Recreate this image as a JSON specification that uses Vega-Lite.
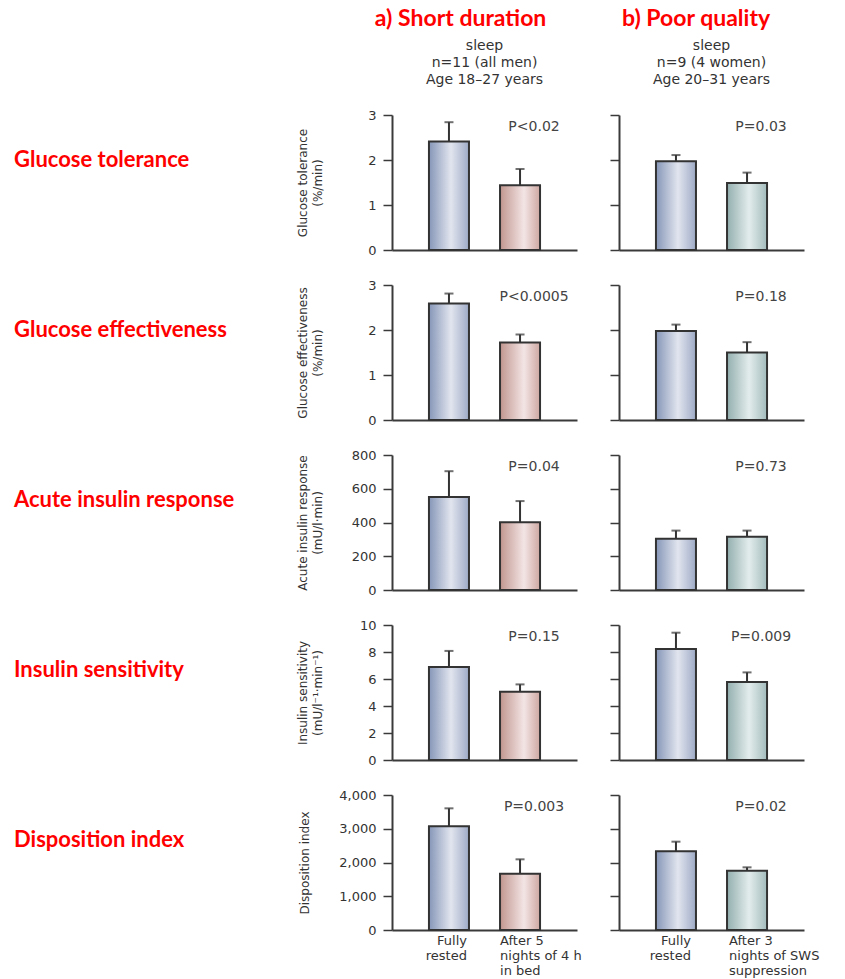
{
  "$schema": "https://vega.github.io/schema/vega-lite/v6.json",
  "padding": {"left": 14, "top": 8, "right": 5, "bottom": 5},
  "background": "white",
  "datasets": {
    "metrics": [
      {"metric": "Glucose tolerance"},
      {"metric": "Glucose effectiveness"},
      {"metric": "Acute insulin response"},
      {"metric": "Insulin sensitivity"},
      {"metric": "Disposition index"}
    ],
    "bars": [
      {"metric": "Glucose tolerance", "study": "short", "condition": "Fully\nrested", "value": 2.41, "upper": 2.84},
      {"metric": "Glucose tolerance", "study": "short", "condition": "After 5\nnights of 4 h\nin bed", "value": 1.44, "upper": 1.80, "p": "P<0.02"},
      {"metric": "Glucose tolerance", "study": "poor", "condition": "Fully\nrested", "value": 1.97, "upper": 2.11},
      {"metric": "Glucose tolerance", "study": "poor", "condition": "After 3\nnights of SWS\nsuppression", "value": 1.49, "upper": 1.72, "p": "P=0.03"},
      {"metric": "Glucose effectiveness", "study": "short", "condition": "Fully\nrested", "value": 2.59, "upper": 2.81},
      {"metric": "Glucose effectiveness", "study": "short", "condition": "After 5\nnights of 4 h\nin bed", "value": 1.72, "upper": 1.90, "p": "P<0.0005"},
      {"metric": "Glucose effectiveness", "study": "poor", "condition": "Fully\nrested", "value": 1.98, "upper": 2.12},
      {"metric": "Glucose effectiveness", "study": "poor", "condition": "After 3\nnights of SWS\nsuppression", "value": 1.50, "upper": 1.73, "p": "P=0.18"},
      {"metric": "Acute insulin response", "study": "short", "condition": "Fully\nrested", "value": 551, "upper": 704},
      {"metric": "Acute insulin response", "study": "short", "condition": "After 5\nnights of 4 h\nin bed", "value": 402, "upper": 527, "p": "P=0.04"},
      {"metric": "Acute insulin response", "study": "poor", "condition": "Fully\nrested", "value": 304, "upper": 352},
      {"metric": "Acute insulin response", "study": "poor", "condition": "After 3\nnights of SWS\nsuppression", "value": 316, "upper": 352, "p": "P=0.73"},
      {"metric": "Insulin sensitivity", "study": "short", "condition": "Fully\nrested", "value": 6.89, "upper": 8.08},
      {"metric": "Insulin sensitivity", "study": "short", "condition": "After 5\nnights of 4 h\nin bed", "value": 5.05, "upper": 5.60, "p": "P=0.15"},
      {"metric": "Insulin sensitivity", "study": "poor", "condition": "Fully\nrested", "value": 8.23, "upper": 9.43},
      {"metric": "Insulin sensitivity", "study": "poor", "condition": "After 3\nnights of SWS\nsuppression", "value": 5.77, "upper": 6.49, "p": "P=0.009"},
      {"metric": "Disposition index", "study": "short", "condition": "Fully\nrested", "value": 3072, "upper": 3605},
      {"metric": "Disposition index", "study": "short", "condition": "After 5\nnights of 4 h\nin bed", "value": 1669, "upper": 2094, "p": "P=0.003"},
      {"metric": "Disposition index", "study": "poor", "condition": "Fully\nrested", "value": 2331, "upper": 2617},
      {"metric": "Disposition index", "study": "poor", "condition": "After 3\nnights of SWS\nsuppression", "value": 1758, "upper": 1857, "p": "P=0.02"}
    ]
  },
  "hconcat": [
    {
      "spacing": 35, "bounds": "flush",
      "vconcat": [
        {"width": 255, "height": 135, "data": {"name": "metrics"}, "transform": [{"filter": "datum.metric == 'Glucose tolerance'"}], "mark": {"type": "text", "align": "left", "baseline": "middle", "color": "#ff0000", "font": "Lato", "fontSize": 22, "fontWeight": "bold"}, "encoding": {"text": {"field": "metric"}, "x": {"datum": 0, "type": "quantitative", "scale": {"domain": [0, 1]}, "axis": null}, "y": {"datum": 0.67, "type": "quantitative", "scale": {"domain": [0, 1]}, "axis": null}}},
        {"width": 255, "height": 135, "data": {"name": "metrics"}, "transform": [{"filter": "datum.metric == 'Glucose effectiveness'"}], "mark": {"type": "text", "align": "left", "baseline": "middle", "color": "#ff0000", "font": "Lato", "fontSize": 22, "fontWeight": "bold"}, "encoding": {"text": {"field": "metric"}, "x": {"datum": 0, "type": "quantitative", "scale": {"domain": [0, 1]}, "axis": null}, "y": {"datum": 0.67, "type": "quantitative", "scale": {"domain": [0, 1]}, "axis": null}}},
        {"width": 255, "height": 135, "data": {"name": "metrics"}, "transform": [{"filter": "datum.metric == 'Acute insulin response'"}], "mark": {"type": "text", "align": "left", "baseline": "middle", "color": "#ff0000", "font": "Lato", "fontSize": 22, "fontWeight": "bold"}, "encoding": {"text": {"field": "metric"}, "x": {"datum": 0, "type": "quantitative", "scale": {"domain": [0, 1]}, "axis": null}, "y": {"datum": 0.67, "type": "quantitative", "scale": {"domain": [0, 1]}, "axis": null}}},
        {"width": 255, "height": 135, "data": {"name": "metrics"}, "transform": [{"filter": "datum.metric == 'Insulin sensitivity'"}], "mark": {"type": "text", "align": "left", "baseline": "middle", "color": "#ff0000", "font": "Lato", "fontSize": 22, "fontWeight": "bold"}, "encoding": {"text": {"field": "metric"}, "x": {"datum": 0, "type": "quantitative", "scale": {"domain": [0, 1]}, "axis": null}, "y": {"datum": 0.67, "type": "quantitative", "scale": {"domain": [0, 1]}, "axis": null}}},
        {"width": 255, "height": 135, "data": {"name": "metrics"}, "transform": [{"filter": "datum.metric == 'Disposition index'"}], "mark": {"type": "text", "align": "left", "baseline": "middle", "color": "#ff0000", "font": "Lato", "fontSize": 22, "fontWeight": "bold"}, "encoding": {"text": {"field": "metric"}, "x": {"datum": 0, "type": "quantitative", "scale": {"domain": [0, 1]}, "axis": null}, "y": {"datum": 0.67, "type": "quantitative", "scale": {"domain": [0, 1]}, "axis": null}}}
      ]
    },
    {
      "title": {"text": "a) Short duration", "color": "#ff0000", "font": "Lato", "fontSize": 23, "fontWeight": "bold", "anchor": "middle", "dx": 22, "offset": 8},
      "spacing": 35, "bounds": "flush",
      "vconcat": [
        {
          "title": {"text": ["sleep", "n=11 (all men)", "Age 18–27 years"], "color": "#333", "font": "DejaVu Sans", "fontSize": 14, "fontWeight": "normal", "lineHeight": 17, "offset": 22, "anchor": "middle"},
          "width": 185, "height": 135, "data": {"name": "bars"},
          "transform": [{"filter": "datum.metric == 'Glucose tolerance' && datum.study == 'short'"}],
          "encoding": {
            "x": {"field": "condition", "type": "nominal", "sort": "descending", "scale": {"paddingInner": 0.437, "paddingOuter": 0.52}, "axis": {"labels": false, "ticks": false, "title": null}},
            "y": {"field": "value", "type": "quantitative", "scale": {"domain": [0, 3], "nice": false}, "axis": {"title": ["Glucose tolerance", "(%/min)"], "values": [0, 1, 2, 3], "titleX": -83}}
          },
          "layer": [
            {"transform": [{"filter": "indexof(datum.condition, 'Fully') == 0"}], "mark": {"type": "bar", "stroke": "#333", "strokeWidth": 2, "color": {"gradient": "linear", "x1": 0, "x2": 1, "y1": 0, "y2": 0, "stops": [{"offset": 0, "color": "#8696b8"}, {"offset": 0.55, "color": "#e1e5ee"}, {"offset": 1, "color": "#9eaac6"}]}}},
            {"transform": [{"filter": "indexof(datum.condition, 'Fully') != 0"}], "mark": {"type": "bar", "stroke": "#333", "strokeWidth": 2, "color": {"gradient": "linear", "x1": 0, "x2": 1, "y1": 0, "y2": 0, "stops": [{"offset": 0, "color": "#c1968f"}, {"offset": 0.6, "color": "#f3e5e5"}, {"offset": 1, "color": "#cda7a1"}]}}},
            {"mark": {"type": "rule", "color": "#333", "strokeWidth": 2}, "encoding": {"y2": {"field": "upper"}}},
            {"mark": {"type": "tick", "color": "#333", "size": 9, "thickness": 2}, "encoding": {"y": {"field": "upper", "type": "quantitative"}}},
            {"transform": [{"filter": "isValid(datum.p)"}], "mark": {"type": "text", "font": "DejaVu Sans", "fontSize": 14, "color": "#444", "baseline": "middle", "dy": 12}, "encoding": {"text": {"field": "p"}, "y": {"datum": 3, "type": "quantitative"}, "x": {"field": "condition", "type": "nominal", "sort": "descending", "bandPosition": 0.85}}}
          ]
        },
        {
          "width": 185, "height": 135, "data": {"name": "bars"},
          "transform": [{"filter": "datum.metric == 'Glucose effectiveness' && datum.study == 'short'"}],
          "encoding": {
            "x": {"field": "condition", "type": "nominal", "sort": "descending", "scale": {"paddingInner": 0.437, "paddingOuter": 0.52}, "axis": {"labels": false, "ticks": false, "title": null}},
            "y": {"field": "value", "type": "quantitative", "scale": {"domain": [0, 3], "nice": false}, "axis": {"title": ["Glucose effectiveness", "(%/min)"], "values": [0, 1, 2, 3], "titleX": -83}}
          },
          "layer": [
            {"transform": [{"filter": "indexof(datum.condition, 'Fully') == 0"}], "mark": {"type": "bar", "stroke": "#333", "strokeWidth": 2, "color": {"gradient": "linear", "x1": 0, "x2": 1, "y1": 0, "y2": 0, "stops": [{"offset": 0, "color": "#8696b8"}, {"offset": 0.55, "color": "#e1e5ee"}, {"offset": 1, "color": "#9eaac6"}]}}},
            {"transform": [{"filter": "indexof(datum.condition, 'Fully') != 0"}], "mark": {"type": "bar", "stroke": "#333", "strokeWidth": 2, "color": {"gradient": "linear", "x1": 0, "x2": 1, "y1": 0, "y2": 0, "stops": [{"offset": 0, "color": "#c1968f"}, {"offset": 0.6, "color": "#f3e5e5"}, {"offset": 1, "color": "#cda7a1"}]}}},
            {"mark": {"type": "rule", "color": "#333", "strokeWidth": 2}, "encoding": {"y2": {"field": "upper"}}},
            {"mark": {"type": "tick", "color": "#333", "size": 9, "thickness": 2}, "encoding": {"y": {"field": "upper", "type": "quantitative"}}},
            {"transform": [{"filter": "isValid(datum.p)"}], "mark": {"type": "text", "font": "DejaVu Sans", "fontSize": 14, "color": "#444", "baseline": "middle", "dy": 12}, "encoding": {"text": {"field": "p"}, "y": {"datum": 3, "type": "quantitative"}, "x": {"field": "condition", "type": "nominal", "sort": "descending", "bandPosition": 0.85}}}
          ]
        },
        {
          "width": 185, "height": 135, "data": {"name": "bars"},
          "transform": [{"filter": "datum.metric == 'Acute insulin response' && datum.study == 'short'"}],
          "encoding": {
            "x": {"field": "condition", "type": "nominal", "sort": "descending", "scale": {"paddingInner": 0.437, "paddingOuter": 0.52}, "axis": {"labels": false, "ticks": false, "title": null}},
            "y": {"field": "value", "type": "quantitative", "scale": {"domain": [0, 800], "nice": false}, "axis": {"title": ["Acute insulin response", "(mU/l·min)"], "values": [0, 200, 400, 600, 800], "titleX": -83}}
          },
          "layer": [
            {"transform": [{"filter": "indexof(datum.condition, 'Fully') == 0"}], "mark": {"type": "bar", "stroke": "#333", "strokeWidth": 2, "color": {"gradient": "linear", "x1": 0, "x2": 1, "y1": 0, "y2": 0, "stops": [{"offset": 0, "color": "#8696b8"}, {"offset": 0.55, "color": "#e1e5ee"}, {"offset": 1, "color": "#9eaac6"}]}}},
            {"transform": [{"filter": "indexof(datum.condition, 'Fully') != 0"}], "mark": {"type": "bar", "stroke": "#333", "strokeWidth": 2, "color": {"gradient": "linear", "x1": 0, "x2": 1, "y1": 0, "y2": 0, "stops": [{"offset": 0, "color": "#c1968f"}, {"offset": 0.6, "color": "#f3e5e5"}, {"offset": 1, "color": "#cda7a1"}]}}},
            {"mark": {"type": "rule", "color": "#333", "strokeWidth": 2}, "encoding": {"y2": {"field": "upper"}}},
            {"mark": {"type": "tick", "color": "#333", "size": 9, "thickness": 2}, "encoding": {"y": {"field": "upper", "type": "quantitative"}}},
            {"transform": [{"filter": "isValid(datum.p)"}], "mark": {"type": "text", "font": "DejaVu Sans", "fontSize": 14, "color": "#444", "baseline": "middle", "dy": 12}, "encoding": {"text": {"field": "p"}, "y": {"datum": 800, "type": "quantitative"}, "x": {"field": "condition", "type": "nominal", "sort": "descending", "bandPosition": 0.85}}}
          ]
        },
        {
          "width": 185, "height": 135, "data": {"name": "bars"},
          "transform": [{"filter": "datum.metric == 'Insulin sensitivity' && datum.study == 'short'"}],
          "encoding": {
            "x": {"field": "condition", "type": "nominal", "sort": "descending", "scale": {"paddingInner": 0.437, "paddingOuter": 0.52}, "axis": {"labels": false, "ticks": false, "title": null}},
            "y": {"field": "value", "type": "quantitative", "scale": {"domain": [0, 10], "nice": false}, "axis": {"title": ["Insulin sensitivity", "(mU/l⁻¹·min⁻¹)"], "values": [0, 2, 4, 6, 8, 10], "titleX": -83}}
          },
          "layer": [
            {"transform": [{"filter": "indexof(datum.condition, 'Fully') == 0"}], "mark": {"type": "bar", "stroke": "#333", "strokeWidth": 2, "color": {"gradient": "linear", "x1": 0, "x2": 1, "y1": 0, "y2": 0, "stops": [{"offset": 0, "color": "#8696b8"}, {"offset": 0.55, "color": "#e1e5ee"}, {"offset": 1, "color": "#9eaac6"}]}}},
            {"transform": [{"filter": "indexof(datum.condition, 'Fully') != 0"}], "mark": {"type": "bar", "stroke": "#333", "strokeWidth": 2, "color": {"gradient": "linear", "x1": 0, "x2": 1, "y1": 0, "y2": 0, "stops": [{"offset": 0, "color": "#c1968f"}, {"offset": 0.6, "color": "#f3e5e5"}, {"offset": 1, "color": "#cda7a1"}]}}},
            {"mark": {"type": "rule", "color": "#333", "strokeWidth": 2}, "encoding": {"y2": {"field": "upper"}}},
            {"mark": {"type": "tick", "color": "#333", "size": 9, "thickness": 2}, "encoding": {"y": {"field": "upper", "type": "quantitative"}}},
            {"transform": [{"filter": "isValid(datum.p)"}], "mark": {"type": "text", "font": "DejaVu Sans", "fontSize": 14, "color": "#444", "baseline": "middle", "dy": 12}, "encoding": {"text": {"field": "p"}, "y": {"datum": 10, "type": "quantitative"}, "x": {"field": "condition", "type": "nominal", "sort": "descending", "bandPosition": 0.85}}}
          ]
        },
        {
          "width": 185, "height": 135, "data": {"name": "bars"},
          "transform": [{"filter": "datum.metric == 'Disposition index' && datum.study == 'short'"}],
          "encoding": {
            "x": {"field": "condition", "type": "nominal", "sort": "descending", "scale": {"paddingInner": 0.437, "paddingOuter": 0.52}, "axis": {"title": null, "ticks": false, "labelAngle": 0, "labelExpr": "split(datum.value, '\\n')", "labelAlign": {"condition": {"test": "indexof(datum.value, 'Fully') == 0", "value": "right"}, "value": "left"}, "labelOffset": {"condition": {"test": "indexof(datum.value, 'Fully') == 0", "value": 18}, "value": -20}, "labelBaseline": "top", "labelPadding": 4, "labelLineHeight": 15, "labelLimit": 0, "labelFontSize": 13}},
            "y": {"field": "value", "type": "quantitative", "scale": {"domain": [0, 4000], "nice": false}, "axis": {"title": "Disposition index", "values": [0, 1000, 2000, 3000, 4000], "format": ",d", "titleX": -81}}
          },
          "layer": [
            {"transform": [{"filter": "indexof(datum.condition, 'Fully') == 0"}], "mark": {"type": "bar", "stroke": "#333", "strokeWidth": 2, "color": {"gradient": "linear", "x1": 0, "x2": 1, "y1": 0, "y2": 0, "stops": [{"offset": 0, "color": "#8696b8"}, {"offset": 0.55, "color": "#e1e5ee"}, {"offset": 1, "color": "#9eaac6"}]}}},
            {"transform": [{"filter": "indexof(datum.condition, 'Fully') != 0"}], "mark": {"type": "bar", "stroke": "#333", "strokeWidth": 2, "color": {"gradient": "linear", "x1": 0, "x2": 1, "y1": 0, "y2": 0, "stops": [{"offset": 0, "color": "#c1968f"}, {"offset": 0.6, "color": "#f3e5e5"}, {"offset": 1, "color": "#cda7a1"}]}}},
            {"mark": {"type": "rule", "color": "#333", "strokeWidth": 2}, "encoding": {"y2": {"field": "upper"}}},
            {"mark": {"type": "tick", "color": "#333", "size": 9, "thickness": 2}, "encoding": {"y": {"field": "upper", "type": "quantitative"}}},
            {"transform": [{"filter": "isValid(datum.p)"}], "mark": {"type": "text", "font": "DejaVu Sans", "fontSize": 14, "color": "#444", "baseline": "middle", "dy": 12}, "encoding": {"text": {"field": "p"}, "y": {"datum": 4000, "type": "quantitative"}, "x": {"field": "condition", "type": "nominal", "sort": "descending", "bandPosition": 0.85}}}
          ]
        }
      ]
    },
    {
      "title": {"text": "b) Poor quality", "color": "#ff0000", "font": "Lato", "fontSize": 23, "fontWeight": "bold", "anchor": "middle", "dx": -18, "offset": 8},
      "spacing": 35, "bounds": "flush",
      "vconcat": [
        {
          "title": {"text": ["sleep", "n=9 (4 women)", "Age 20–31 years"], "color": "#333", "font": "DejaVu Sans", "fontSize": 14, "fontWeight": "normal", "lineHeight": 17, "offset": 27, "anchor": "middle"},
          "width": 185, "height": 135, "data": {"name": "bars"},
          "transform": [{"filter": "datum.metric == 'Glucose tolerance' && datum.study == 'poor'"}],
          "encoding": {
            "x": {"field": "condition", "type": "nominal", "sort": "descending", "scale": {"paddingInner": 0.437, "paddingOuter": 0.52}, "axis": {"labels": false, "ticks": false, "title": null}},
            "y": {"field": "value", "type": "quantitative", "scale": {"domain": [0, 3], "nice": false}, "axis": {"labels": false, "title": null, "values": [0, 1, 2, 3]}}
          },
          "layer": [
            {"transform": [{"filter": "indexof(datum.condition, 'Fully') == 0"}], "mark": {"type": "bar", "stroke": "#333", "strokeWidth": 2, "color": {"gradient": "linear", "x1": 0, "x2": 1, "y1": 0, "y2": 0, "stops": [{"offset": 0, "color": "#8696b8"}, {"offset": 0.55, "color": "#e1e5ee"}, {"offset": 1, "color": "#9eaac6"}]}}},
            {"transform": [{"filter": "indexof(datum.condition, 'Fully') != 0"}], "mark": {"type": "bar", "stroke": "#333", "strokeWidth": 2, "color": {"gradient": "linear", "x1": 0, "x2": 1, "y1": 0, "y2": 0, "stops": [{"offset": 0, "color": "#93afaf"}, {"offset": 0.55, "color": "#e3ecec"}, {"offset": 1, "color": "#a3bcbc"}]}}},
            {"mark": {"type": "rule", "color": "#333", "strokeWidth": 2}, "encoding": {"y2": {"field": "upper"}}},
            {"mark": {"type": "tick", "color": "#333", "size": 9, "thickness": 2}, "encoding": {"y": {"field": "upper", "type": "quantitative"}}},
            {"transform": [{"filter": "isValid(datum.p)"}], "mark": {"type": "text", "font": "DejaVu Sans", "fontSize": 14, "color": "#444", "baseline": "middle", "dy": 12}, "encoding": {"text": {"field": "p"}, "y": {"datum": 3, "type": "quantitative"}, "x": {"field": "condition", "type": "nominal", "sort": "descending", "bandPosition": 0.85}}}
          ]
        },
        {
          "width": 185, "height": 135, "data": {"name": "bars"},
          "transform": [{"filter": "datum.metric == 'Glucose effectiveness' && datum.study == 'poor'"}],
          "encoding": {
            "x": {"field": "condition", "type": "nominal", "sort": "descending", "scale": {"paddingInner": 0.437, "paddingOuter": 0.52}, "axis": {"labels": false, "ticks": false, "title": null}},
            "y": {"field": "value", "type": "quantitative", "scale": {"domain": [0, 3], "nice": false}, "axis": {"labels": false, "title": null, "values": [0, 1, 2, 3]}}
          },
          "layer": [
            {"transform": [{"filter": "indexof(datum.condition, 'Fully') == 0"}], "mark": {"type": "bar", "stroke": "#333", "strokeWidth": 2, "color": {"gradient": "linear", "x1": 0, "x2": 1, "y1": 0, "y2": 0, "stops": [{"offset": 0, "color": "#8696b8"}, {"offset": 0.55, "color": "#e1e5ee"}, {"offset": 1, "color": "#9eaac6"}]}}},
            {"transform": [{"filter": "indexof(datum.condition, 'Fully') != 0"}], "mark": {"type": "bar", "stroke": "#333", "strokeWidth": 2, "color": {"gradient": "linear", "x1": 0, "x2": 1, "y1": 0, "y2": 0, "stops": [{"offset": 0, "color": "#93afaf"}, {"offset": 0.55, "color": "#e3ecec"}, {"offset": 1, "color": "#a3bcbc"}]}}},
            {"mark": {"type": "rule", "color": "#333", "strokeWidth": 2}, "encoding": {"y2": {"field": "upper"}}},
            {"mark": {"type": "tick", "color": "#333", "size": 9, "thickness": 2}, "encoding": {"y": {"field": "upper", "type": "quantitative"}}},
            {"transform": [{"filter": "isValid(datum.p)"}], "mark": {"type": "text", "font": "DejaVu Sans", "fontSize": 14, "color": "#444", "baseline": "middle", "dy": 12}, "encoding": {"text": {"field": "p"}, "y": {"datum": 3, "type": "quantitative"}, "x": {"field": "condition", "type": "nominal", "sort": "descending", "bandPosition": 0.85}}}
          ]
        },
        {
          "width": 185, "height": 135, "data": {"name": "bars"},
          "transform": [{"filter": "datum.metric == 'Acute insulin response' && datum.study == 'poor'"}],
          "encoding": {
            "x": {"field": "condition", "type": "nominal", "sort": "descending", "scale": {"paddingInner": 0.437, "paddingOuter": 0.52}, "axis": {"labels": false, "ticks": false, "title": null}},
            "y": {"field": "value", "type": "quantitative", "scale": {"domain": [0, 800], "nice": false}, "axis": {"labels": false, "title": null, "values": [0, 200, 400, 600, 800]}}
          },
          "layer": [
            {"transform": [{"filter": "indexof(datum.condition, 'Fully') == 0"}], "mark": {"type": "bar", "stroke": "#333", "strokeWidth": 2, "color": {"gradient": "linear", "x1": 0, "x2": 1, "y1": 0, "y2": 0, "stops": [{"offset": 0, "color": "#8696b8"}, {"offset": 0.55, "color": "#e1e5ee"}, {"offset": 1, "color": "#9eaac6"}]}}},
            {"transform": [{"filter": "indexof(datum.condition, 'Fully') != 0"}], "mark": {"type": "bar", "stroke": "#333", "strokeWidth": 2, "color": {"gradient": "linear", "x1": 0, "x2": 1, "y1": 0, "y2": 0, "stops": [{"offset": 0, "color": "#93afaf"}, {"offset": 0.55, "color": "#e3ecec"}, {"offset": 1, "color": "#a3bcbc"}]}}},
            {"mark": {"type": "rule", "color": "#333", "strokeWidth": 2}, "encoding": {"y2": {"field": "upper"}}},
            {"mark": {"type": "tick", "color": "#333", "size": 9, "thickness": 2}, "encoding": {"y": {"field": "upper", "type": "quantitative"}}},
            {"transform": [{"filter": "isValid(datum.p)"}], "mark": {"type": "text", "font": "DejaVu Sans", "fontSize": 14, "color": "#444", "baseline": "middle", "dy": 12}, "encoding": {"text": {"field": "p"}, "y": {"datum": 800, "type": "quantitative"}, "x": {"field": "condition", "type": "nominal", "sort": "descending", "bandPosition": 0.85}}}
          ]
        },
        {
          "width": 185, "height": 135, "data": {"name": "bars"},
          "transform": [{"filter": "datum.metric == 'Insulin sensitivity' && datum.study == 'poor'"}],
          "encoding": {
            "x": {"field": "condition", "type": "nominal", "sort": "descending", "scale": {"paddingInner": 0.437, "paddingOuter": 0.52}, "axis": {"labels": false, "ticks": false, "title": null}},
            "y": {"field": "value", "type": "quantitative", "scale": {"domain": [0, 10], "nice": false}, "axis": {"labels": false, "title": null, "values": [0, 2, 4, 6, 8, 10]}}
          },
          "layer": [
            {"transform": [{"filter": "indexof(datum.condition, 'Fully') == 0"}], "mark": {"type": "bar", "stroke": "#333", "strokeWidth": 2, "color": {"gradient": "linear", "x1": 0, "x2": 1, "y1": 0, "y2": 0, "stops": [{"offset": 0, "color": "#8696b8"}, {"offset": 0.55, "color": "#e1e5ee"}, {"offset": 1, "color": "#9eaac6"}]}}},
            {"transform": [{"filter": "indexof(datum.condition, 'Fully') != 0"}], "mark": {"type": "bar", "stroke": "#333", "strokeWidth": 2, "color": {"gradient": "linear", "x1": 0, "x2": 1, "y1": 0, "y2": 0, "stops": [{"offset": 0, "color": "#93afaf"}, {"offset": 0.55, "color": "#e3ecec"}, {"offset": 1, "color": "#a3bcbc"}]}}},
            {"mark": {"type": "rule", "color": "#333", "strokeWidth": 2}, "encoding": {"y2": {"field": "upper"}}},
            {"mark": {"type": "tick", "color": "#333", "size": 9, "thickness": 2}, "encoding": {"y": {"field": "upper", "type": "quantitative"}}},
            {"transform": [{"filter": "isValid(datum.p)"}], "mark": {"type": "text", "font": "DejaVu Sans", "fontSize": 14, "color": "#444", "baseline": "middle", "dy": 12}, "encoding": {"text": {"field": "p"}, "y": {"datum": 10, "type": "quantitative"}, "x": {"field": "condition", "type": "nominal", "sort": "descending", "bandPosition": 0.85}}}
          ]
        },
        {
          "width": 185, "height": 135, "data": {"name": "bars"},
          "transform": [{"filter": "datum.metric == 'Disposition index' && datum.study == 'poor'"}],
          "encoding": {
            "x": {"field": "condition", "type": "nominal", "sort": "descending", "scale": {"paddingInner": 0.437, "paddingOuter": 0.52}, "axis": {"title": null, "ticks": false, "labelAngle": 0, "labelExpr": "split(datum.value, '\\n')", "labelAlign": {"condition": {"test": "indexof(datum.value, 'Fully') == 0", "value": "right"}, "value": "left"}, "labelOffset": {"condition": {"test": "indexof(datum.value, 'Fully') == 0", "value": 15}, "value": -18}, "labelBaseline": "top", "labelPadding": 4, "labelLineHeight": 15, "labelLimit": 0, "labelFontSize": 13}},
            "y": {"field": "value", "type": "quantitative", "scale": {"domain": [0, 4000], "nice": false}, "axis": {"labels": false, "title": null, "values": [0, 1000, 2000, 3000, 4000]}}
          },
          "layer": [
            {"transform": [{"filter": "indexof(datum.condition, 'Fully') == 0"}], "mark": {"type": "bar", "stroke": "#333", "strokeWidth": 2, "color": {"gradient": "linear", "x1": 0, "x2": 1, "y1": 0, "y2": 0, "stops": [{"offset": 0, "color": "#8696b8"}, {"offset": 0.55, "color": "#e1e5ee"}, {"offset": 1, "color": "#9eaac6"}]}}},
            {"transform": [{"filter": "indexof(datum.condition, 'Fully') != 0"}], "mark": {"type": "bar", "stroke": "#333", "strokeWidth": 2, "color": {"gradient": "linear", "x1": 0, "x2": 1, "y1": 0, "y2": 0, "stops": [{"offset": 0, "color": "#93afaf"}, {"offset": 0.55, "color": "#e3ecec"}, {"offset": 1, "color": "#a3bcbc"}]}}},
            {"mark": {"type": "rule", "color": "#333", "strokeWidth": 2}, "encoding": {"y2": {"field": "upper"}}},
            {"mark": {"type": "tick", "color": "#333", "size": 9, "thickness": 2}, "encoding": {"y": {"field": "upper", "type": "quantitative"}}},
            {"transform": [{"filter": "isValid(datum.p)"}], "mark": {"type": "text", "font": "DejaVu Sans", "fontSize": 14, "color": "#444", "baseline": "middle", "dy": 12}, "encoding": {"text": {"field": "p"}, "y": {"datum": 4000, "type": "quantitative"}, "x": {"field": "condition", "type": "nominal", "sort": "descending", "bandPosition": 0.85}}}
          ]
        }
      ]
    }
  ],
  "spacing": 27,
  "config": {
    "view": {"stroke": null},
    "axis": {"grid": false, "domainColor": "#3a3a3a", "domainWidth": 2, "tickColor": "#3a3a3a", "tickWidth": 1.5, "labelFont": "DejaVu Sans", "labelFontSize": 13, "labelColor": "#333", "titleFont": "DejaVu Sans", "titleFontWeight": "normal", "titleColor": "#333"},
    "axisY": {"tickSize": 9, "labelPadding": 7, "titleFontSize": 12, "titleLineHeight": 15}
  }
}
